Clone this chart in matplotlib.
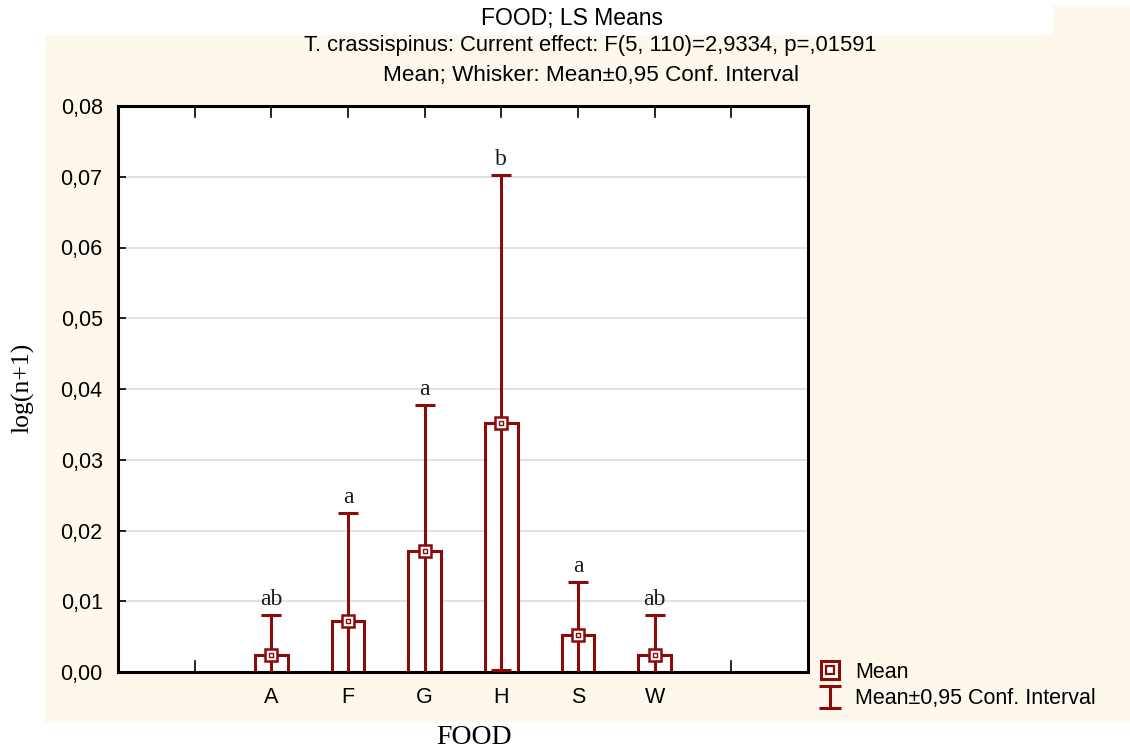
import numpy as np
import matplotlib
matplotlib.use('Agg')
import matplotlib.pyplot as plt
from matplotlib.lines import Line2D
from matplotlib.patches import Rectangle
from matplotlib.path import Path

# ── data ──────────────────────────────────────────────────────────────────────
foods = ['A', 'F', 'G', 'H', 'S', 'W']
means = [0.0024, 0.0072, 0.0171, 0.0352, 0.0052, 0.0024]
ci_hi = [0.0081, 0.0225, 0.0377, 0.0702, 0.0127, 0.0081]
ci_lo = [-0.0033, -0.0081, -0.0035, 0.0003, -0.0023, -0.0033]
letters = ['ab', 'a', 'a', 'b', 'a', 'ab']
y_ticks = [0.00, 0.01, 0.02, 0.03, 0.04, 0.05, 0.06, 0.07, 0.08]

RED = '#8B0A0A'
CREAM = '#FEF8EC'
SANS = ['Liberation Sans', 'DejaVu Sans']
SERIF = ['Liberation Serif', 'DejaVu Serif']
W, H = 1130, 749


def fx(px):
    return px / W


def fy(py):
    return 1 - py / H


fig = plt.figure(figsize=(11.3, 7.49), dpi=100)
fig.patch.set_facecolor('white')
# cream panel behind everything except the top title strip
fig.patches.append(Rectangle((fx(45), fy(722)), 1 - fx(45), (722 - 35) / H,
                             transform=fig.transFigure, facecolor=CREAM,
                             edgecolor='none', zorder=-10))
fig.patches.append(Rectangle((fx(1053), fy(36)), 1 - fx(1053), 30 / H,
                             transform=fig.transFigure, facecolor=CREAM,
                             edgecolor='none', zorder=-10))

ax = fig.add_axes([fx(118), fy(672), 690 / W, 566 / H])
ax.set_facecolor('white')

x = np.arange(1, len(foods) + 1)
means = np.array(means)
ci_hi = np.array(ci_hi)
ci_lo = np.array(ci_lo)

# bars: outline only
ax.bar(x, means, width=0.43, facecolor='white', edgecolor=RED, linewidth=2.2, zorder=2)
# whiskers
ax.errorbar(x, means, yerr=[means - ci_lo, ci_hi - means], fmt='none',
            ecolor=RED, elinewidth=2.2, capsize=7.5, capthick=2.2, zorder=3)
# mean markers (square with inner square)
ax.plot(x, means, 's', ms=8.5, mfc='white', mec=RED, mew=1.8, zorder=4)
ax.plot(x, means, 's', ms=3.5, mfc='white', mec=RED, mew=1.0, zorder=5)

for xi, hi, lab in zip(x, ci_hi, letters):
    ax.text(xi, hi + 0.0007, lab, ha='center', va='bottom', fontsize=17,
            family=SERIF, color='#1a1a1a')

ax.set_xlim(-1, 8)
ax.set_ylim(0, 0.08)
ax.set_yticks(y_ticks)
ax.set_yticklabels([f'{v:.2f}'.replace('.', ',') for v in y_ticks],
                   family=SANS, fontsize=15.5)
ax.set_xticks(x)
ax.set_xticklabels(foods, family=SANS, fontsize=15.5)
ax.tick_params(axis='both', direction='in', length=6, width=1.2)
ax.tick_params(axis='y', pad=11)
ax.tick_params(axis='x', pad=11)
ax.grid(axis='y', color='#DDDDDD', linewidth=1.2, zorder=0)
ax.set_axisbelow(True)
for s in ax.spines.values():
    s.set_linewidth(2.2)
    s.set_color('black')

# extra ticks on top edge and bottom ends
for k in range(0, 8):
    ax.plot([k, k], [0.08, 0.0785], color='black', lw=1.2, clip_on=False, zorder=6)
for k in (0, 7):
    ax.plot([k, k], [0, 0.0015], color='black', lw=1.2, clip_on=False, zorder=6)

fig.text(fx(23), fy(388), 'log(n+1)', rotation=90, ha='center', va='center',
         fontsize=18.5, family=SERIF)
fig.text(fx(474), fy(738), 'FOOD', ha='center', va='center',
         fontsize=20, family=SERIF)

fig.text(fx(572), fy(18), 'FOOD; LS Means', ha='center', va='center',
         fontsize=16.5, family=SANS)
fig.text(fx(590), fy(45), 'T. crassispinus: Current effect: F(5, 110)=2,9334, p=,01591',
         ha='center', va='center', fontsize=15.8, family=SANS)
fig.text(fx(591), fy(75), 'Mean; Whisker: Mean\u00b10,95 Conf. Interval',
         ha='center', va='center', fontsize=16.2, family=SANS)

# legend
ibeam = Path([(-1, 1), (1, 1), (0, 1), (0, -1), (-1, -1), (1, -1)],
             [Path.MOVETO, Path.LINETO, Path.MOVETO, Path.LINETO, Path.MOVETO, Path.LINETO])
h_mean = (Line2D([], [], marker='s', ms=13, mfc='white', mec=RED, mew=2.2, ls='none'),
          Line2D([], [], marker='s', ms=5.5, mfc='white', mec=RED, mew=1.6, ls='none'))
h_ci = Line2D([], [], marker=ibeam, ms=16, mec=RED, mew=2.2, ls='none')
fig.legend([h_mean, h_ci], ['Mean', 'Mean\u00b10,95 Conf. Interval'],
           loc='upper left', bbox_to_anchor=(fx(815), fy(662)),
           frameon=False, prop={'family': SANS, 'size': 15.5},
           borderpad=0, borderaxespad=0,
           handlelength=1.4, handletextpad=0.45, labelspacing=0.25)

fig.savefig('out.png', dpi=100)
